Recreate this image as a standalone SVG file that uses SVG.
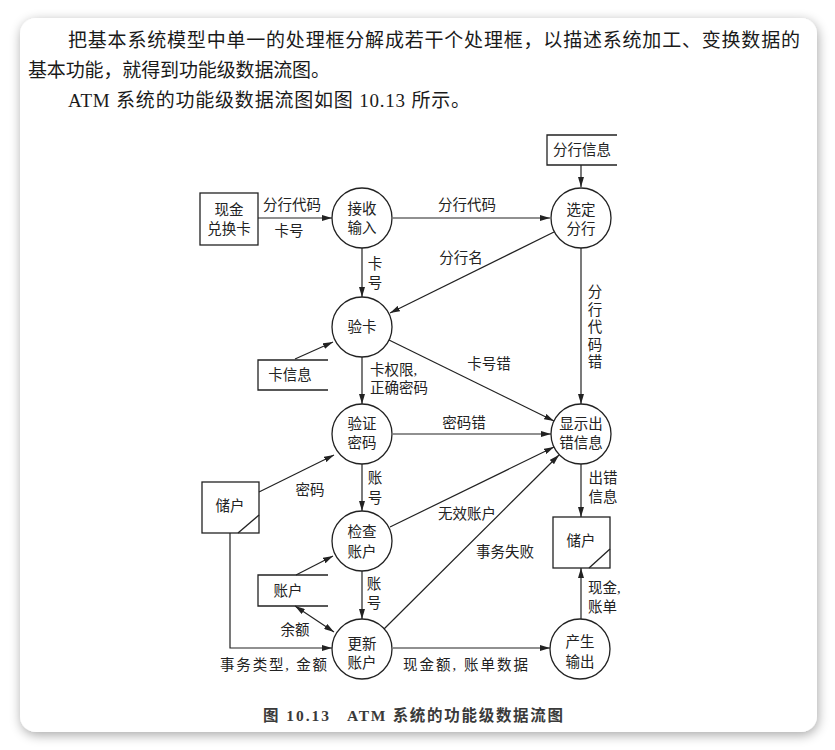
<svg xmlns="http://www.w3.org/2000/svg" width="835" height="750" viewBox="0 0 835 750">
  <defs>
    <filter id="cardShadow" x="-5%" y="-5%" width="110%" height="110%">
      <feGaussianBlur in="SourceAlpha" stdDeviation="6"/>
      <feOffset dx="1" dy="3" result="blur"/>
      <feComponentTransfer><feFuncA type="linear" slope="0.35"/></feComponentTransfer>
      <feMerge><feMergeNode/><feMergeNode in="SourceGraphic"/></feMerge>
    </filter>
    <marker id="arrow" viewBox="0 0 10 6" refX="10" refY="3" markerWidth="10" markerHeight="6" markerUnits="userSpaceOnUse" orient="auto">
      <path d="M0,0 L10,3 L0,6 Z" fill="#222"/>
    </marker>
    <marker id="arrowStart" viewBox="0 0 10 6" refX="0" refY="3" markerWidth="10" markerHeight="6" markerUnits="userSpaceOnUse" orient="auto">
      <path d="M10,0 L0,3 L10,6 Z" fill="#222"/>
    </marker>
  </defs>
  <style>
    .body { font-family: "Liberation Serif", "Noto Sans CJK SC", serif; font-size: 19px; fill: #1a1a1a; }
    .lbl { font-family: "Liberation Serif", "Noto Sans CJK SC", serif; font-size: 14.5px; fill: #222; text-anchor: middle; dominant-baseline: central; }
    .lbl-l { font-family: "Liberation Serif", "Noto Sans CJK SC", serif; font-size: 14.5px; fill: #222; dominant-baseline: central; }
    .cap { font-family: "Liberation Serif", "Noto Sans CJK SC", serif; font-size: 15.5px; font-weight: bold; fill: #3a3a3a; dominant-baseline: central; }
    .proc { fill: #fff; stroke: #222; stroke-width: 1.3; }
    .store { fill: none; stroke: #222; stroke-width: 1.3; }
    .flow { fill: none; stroke: #222; stroke-width: 1.2; marker-end: url(#arrow); }
  </style>

  <!-- page and card -->
  <rect x="0" y="0" width="835" height="750" fill="#ffffff"/>
  <rect x="20" y="18" width="797" height="714" rx="16" fill="#ffffff" filter="url(#cardShadow)"/>

  <!-- introductory paragraph -->
  <g id="intro">
    <text class="body" x="68" y="47" textLength="732" lengthAdjust="spacing">把基本系统模型中单一的处理框分解成若干个处理框，以描述系统加工、变换数据的</text>
    <text class="body" x="28" y="77" textLength="302" lengthAdjust="spacing">基本功能，就得到功能级数据流图。</text>
    <text class="body" x="68" y="107" textLength="402" lengthAdjust="spacing">ATM 系统的功能级数据流图如图 10.13 所示。</text>
  </g>

  <!-- connectors -->
  <g id="connectors">
    <line class="flow" x1="258" y1="218" x2="332" y2="218"/>
    <line class="flow" x1="393" y1="218" x2="550" y2="218"/>
    <line class="flow" x1="581" y1="165" x2="581" y2="187"/>
    <line class="flow" x1="554" y1="232" x2="390" y2="313"/>
    <line class="flow" x1="362" y1="248" x2="362" y2="297"/>
    <line class="flow" x1="581" y1="248" x2="581" y2="404"/>
    <line class="flow" x1="295" y1="359" x2="333" y2="342"/>
    <line class="flow" x1="362" y1="357" x2="362" y2="404"/>
    <line class="flow" x1="389" y1="340" x2="554" y2="421"/>
    <line class="flow" x1="393" y1="434" x2="551" y2="434"/>
    <line class="flow" x1="259" y1="492" x2="334" y2="455"/>
    <line class="flow" x1="362" y1="464" x2="362" y2="511"/>
    <line class="flow" x1="390" y1="527" x2="554" y2="447"/>
    <line class="flow" x1="384" y1="629" x2="559" y2="455"/>
    <line class="flow" x1="296" y1="575" x2="333" y2="556"/>
    <line class="flow" x1="362" y1="571" x2="362" y2="619"/>
    <line class="flow" x1="295" y1="606" x2="334" y2="632" marker-start="url(#arrowStart)"/>
    <polyline class="flow" points="230,533 230,648 332,648"/>
    <line class="flow" x1="393" y1="648" x2="550" y2="648"/>
    <line class="flow" x1="581" y1="619" x2="581" y2="568"/>
    <line class="flow" x1="581" y1="464" x2="581" y2="517"/>

    <!-- flow labels -->
    <text class="lbl" x="292" y="205">分行代码</text>
    <text class="lbl" x="289" y="231">卡号</text>
    <text class="lbl" x="467" y="205">分行代码</text>
    <text class="lbl" x="461" y="258">分行名</text>
    <text class="lbl" x="375" y="264">卡</text>
    <text class="lbl" x="375" y="283">号</text>
    <text class="lbl" x="595" y="292">分</text>
    <text class="lbl" x="595" y="310">行</text>
    <text class="lbl" x="595" y="327">代</text>
    <text class="lbl" x="595" y="345">码</text>
    <text class="lbl" x="595" y="362">错</text>
    <text class="lbl-l" x="370" y="370">卡权限,</text>
    <text class="lbl-l" x="370" y="388">正确密码</text>
    <text class="lbl" x="489" y="364">卡号错</text>
    <text class="lbl" x="464" y="423">密码错</text>
    <text class="lbl" x="310" y="490">密码</text>
    <text class="lbl" x="375" y="478">账</text>
    <text class="lbl" x="375" y="498">号</text>
    <text class="lbl" x="603" y="478">出错</text>
    <text class="lbl" x="603" y="497">信息</text>
    <text class="lbl" x="467" y="514">无效账户</text>
    <text class="lbl" x="505" y="552">事务失败</text>
    <text class="lbl" x="374" y="584">账</text>
    <text class="lbl" x="374" y="603">号</text>
    <text class="lbl-l" x="588" y="588">现金,</text>
    <text class="lbl-l" x="588" y="607">账单</text>
    <text class="lbl" x="295" y="630">余额</text>
    <text class="lbl-l" x="220" y="665" textLength="107" lengthAdjust="spacing">事务类型, 金额</text>
    <text class="lbl-l" x="403" y="665" textLength="125" lengthAdjust="spacing">现金额, 账单数据</text>
  </g>

  <!-- external entities and data stores -->
  <g id="cash-card">
    <rect class="store" x="200" y="193" width="58" height="52"/>
    <text class="lbl" x="229" y="210">现金</text>
    <text class="lbl" x="229" y="229">兑换卡</text>
  </g>
  <g id="branch-info">
    <path class="store" d="M617,135 H547 V165 H617"/>
    <text class="lbl" x="582" y="150">分行信息</text>
  </g>
  <g id="card-info">
    <path class="store" d="M328,360 H258 V390 H328"/>
    <text class="lbl" x="290" y="375">卡信息</text>
  </g>
  <g id="depositor-left">
    <rect class="store" x="202" y="482" width="57" height="51"/>
    <line class="store" x1="238" y1="533" x2="259" y2="515"/>
    <text class="lbl" x="230" y="506">储户</text>
  </g>
  <g id="depositor-right">
    <rect class="store" x="553" y="517" width="57" height="51"/>
    <line class="store" x1="589" y1="568" x2="610" y2="549"/>
    <text class="lbl" x="581" y="541">储户</text>
  </g>
  <g id="account">
    <path class="store" d="M328,575 H258 V606 H328"/>
    <text class="lbl" x="288" y="591">账户</text>
  </g>

  <!-- processes -->
  <g id="receive-input">
    <circle class="proc" cx="362" cy="218" r="30"/>
    <text class="lbl" x="362" y="209">接收</text>
    <text class="lbl" x="362" y="228">输入</text>
  </g>
  <g id="select-branch">
    <circle class="proc" cx="581" cy="218" r="30"/>
    <text class="lbl" x="581" y="210">选定</text>
    <text class="lbl" x="581" y="229">分行</text>
  </g>
  <g id="verify-card">
    <circle class="proc" cx="362" cy="327" r="30"/>
    <text class="lbl" x="362" y="327">验卡</text>
  </g>
  <g id="verify-pin">
    <circle class="proc" cx="362" cy="434" r="30"/>
    <text class="lbl" x="362" y="424">验证</text>
    <text class="lbl" x="362" y="443">密码</text>
  </g>
  <g id="show-error">
    <circle class="proc" cx="581" cy="434" r="30"/>
    <text class="lbl" x="581" y="424">显示出</text>
    <text class="lbl" x="581" y="443">错信息</text>
  </g>
  <g id="check-account">
    <circle class="proc" cx="362" cy="541" r="30"/>
    <text class="lbl" x="362" y="532">检查</text>
    <text class="lbl" x="362" y="552">账户</text>
  </g>
  <g id="update-account">
    <circle class="proc" cx="362" cy="649" r="30"/>
    <text class="lbl" x="362" y="644">更新</text>
    <text class="lbl" x="362" y="663">账户</text>
  </g>
  <g id="produce-output">
    <circle class="proc" cx="580" cy="649" r="30"/>
    <text class="lbl" x="580" y="642">产生</text>
    <text class="lbl" x="580" y="662">输出</text>
  </g>

  <!-- figure caption -->
  <g id="caption">
    <text class="cap" x="263" y="715" textLength="66" lengthAdjust="spacing">图 10.13</text>
    <text class="cap" x="347" y="715" textLength="216" lengthAdjust="spacing">ATM 系统的功能级数据流图</text>
  </g>
</svg>
